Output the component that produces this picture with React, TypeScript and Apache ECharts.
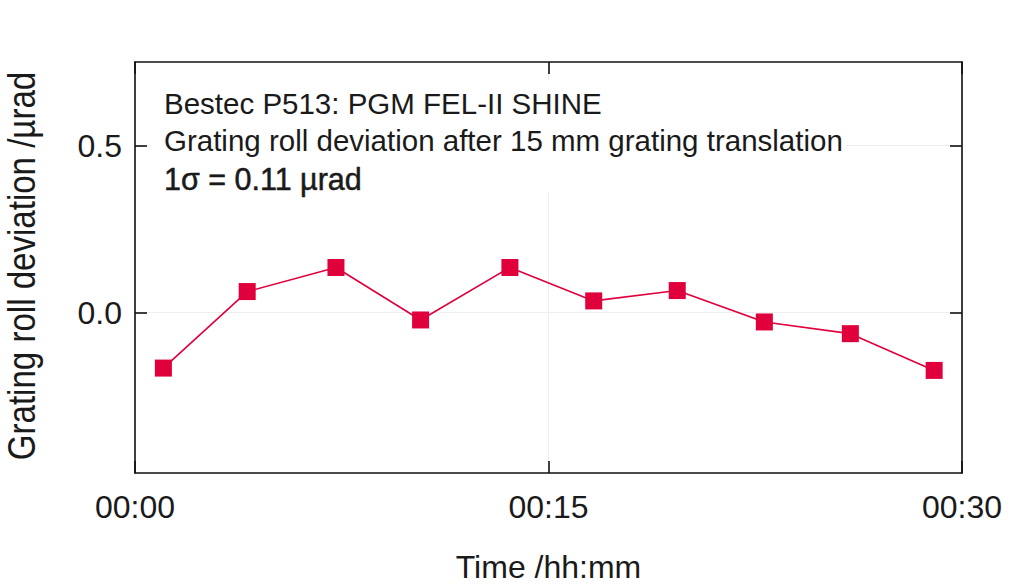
import React, { useEffect, useRef } from "react";
import * as echarts from "echarts";

const timeMinutes = [1.03, 4.07, 7.29, 10.36, 13.6, 16.64, 19.67, 22.83, 25.95, 28.99];
const rollDeviation = [-0.166, 0.063, 0.135, -0.022, 0.135, 0.035, 0.066, -0.028, -0.063, -0.173];
const yTicks = [0, 0.5];
const annotationLines = [
  "Bestec P513: PGM FEL-II SHINE",
  "Grating roll deviation after 15 mm grating translation",
  "1σ = 0.11 µrad",
];
const yAxisTitle = "Grating roll deviation /µrad";
const xAxisTitle = "Time /hh:mm";

const FONT = "'Liberation Sans', Arial, Helvetica, sans-serif";
const TEXT = "#1a1a1a";
const FRAME = "#111111";
const RED = "#e0003c";

export default function App() {
  const ref = useRef<HTMLDivElement>(null);
  useEffect(() => {
    if (!ref.current) return;
    const chart = echarts.init(ref.current, undefined, { renderer: "svg" });
    const fmtTime = (v: number) => "00:" + String(Math.round(v)).padStart(2, "0");
    const axisLine = { show: true, onZero: false, lineStyle: { color: FRAME, width: 1.6 } };
    const tickStyle = { show: true, inside: true, length: 12, lineStyle: { color: FRAME, width: 1.6 } };
    chart.setOption({
      animation: false,
      backgroundColor: "#ffffff",
      grid: { left: 135, right: 62, top: 62, bottom: 114, containLabel: false },
      xAxis: [
        {
          type: "value",
          position: "bottom",
          min: 0,
          max: 30,
          interval: 15,
          axisLine,
          axisTick: tickStyle,
          splitLine: { show: true, lineStyle: { color: "#eeeeee", width: 1 } },
          axisLabel: { formatter: fmtTime, fontFamily: FONT, fontSize: 32, color: TEXT, margin: 18 },
          name: xAxisTitle,
          nameLocation: "middle",
          nameGap: 78,
          nameTextStyle: { fontFamily: FONT, fontSize: 32, color: TEXT },
        },
        {
          type: "value",
          position: "top",
          min: 0,
          max: 30,
          interval: 15,
          axisLine,
          axisTick: tickStyle,
          splitLine: { show: false },
          axisLabel: { show: false },
        },
      ],
      yAxis: [
        {
          type: "value",
          position: "left",
          min: -0.48,
          max: 0.75,
          axisLine,
          axisTick: { ...tickStyle, customValues: yTicks },
          splitLine: { show: true, lineStyle: { color: "#eeeeee", width: 1 } },
          axisLabel: {
            customValues: yTicks,
            formatter: (v: number) => v.toFixed(1),
            fontFamily: FONT,
            fontSize: 32,
            color: TEXT,
            margin: 13,
          },
        },
        {
          type: "value",
          position: "right",
          min: -0.48,
          max: 0.75,
          axisLine,
          axisTick: { ...tickStyle, customValues: yTicks },
          splitLine: { show: false },
          axisLabel: { show: false, customValues: yTicks },
        },
      ],
      series: [
        {
          type: "line",
          xAxisIndex: 0,
          yAxisIndex: 0,
          data: timeMinutes.map((t, i) => [t, rollDeviation[i]]),
          symbol: "rect",
          symbolSize: 17,
          lineStyle: { color: RED, width: 1.6 },
          itemStyle: { color: RED },
        },
      ],
      graphic: [
        {
          type: "rect",
          z: 1,
          shape: { x: 150, y: 80, width: 696, height: 112 },
          style: { fill: "#ffffff" },
          silent: true,
        },
        ...annotationLines.map((line, i) => ({
          type: "text",
          z: 3,
          x: 164,
          y: [103, 140, 179][i],
          style: {
            text: line,
            fontFamily: FONT,
            fontSize: i === 2 ? 30.5 : 29.5,
            fontWeight: "normal",
            fill: TEXT,
            stroke: i === 2 ? TEXT : undefined,
            lineWidth: i === 2 ? 0.5 : 0,
            textVerticalAlign: "middle",
            verticalAlign: "middle",
          },
        })),
        {
          type: "text",
          z: 3,
          x: 22,
          y: 266,
          rotation: Math.PI / 2,
          scaleX: 0.87,
          style: {
            text: yAxisTitle,
            fontFamily: FONT,
            fontSize: 38,
            fill: TEXT,
            align: "center",
            verticalAlign: "middle",
          },
        },
      ],
    });
    return () => chart.dispose();
  }, []);
  return (
    <div
      ref={ref}
      style={{ position: "fixed", left: 0, top: 0, width: 1024, height: 588 }}
    />
  );
}
